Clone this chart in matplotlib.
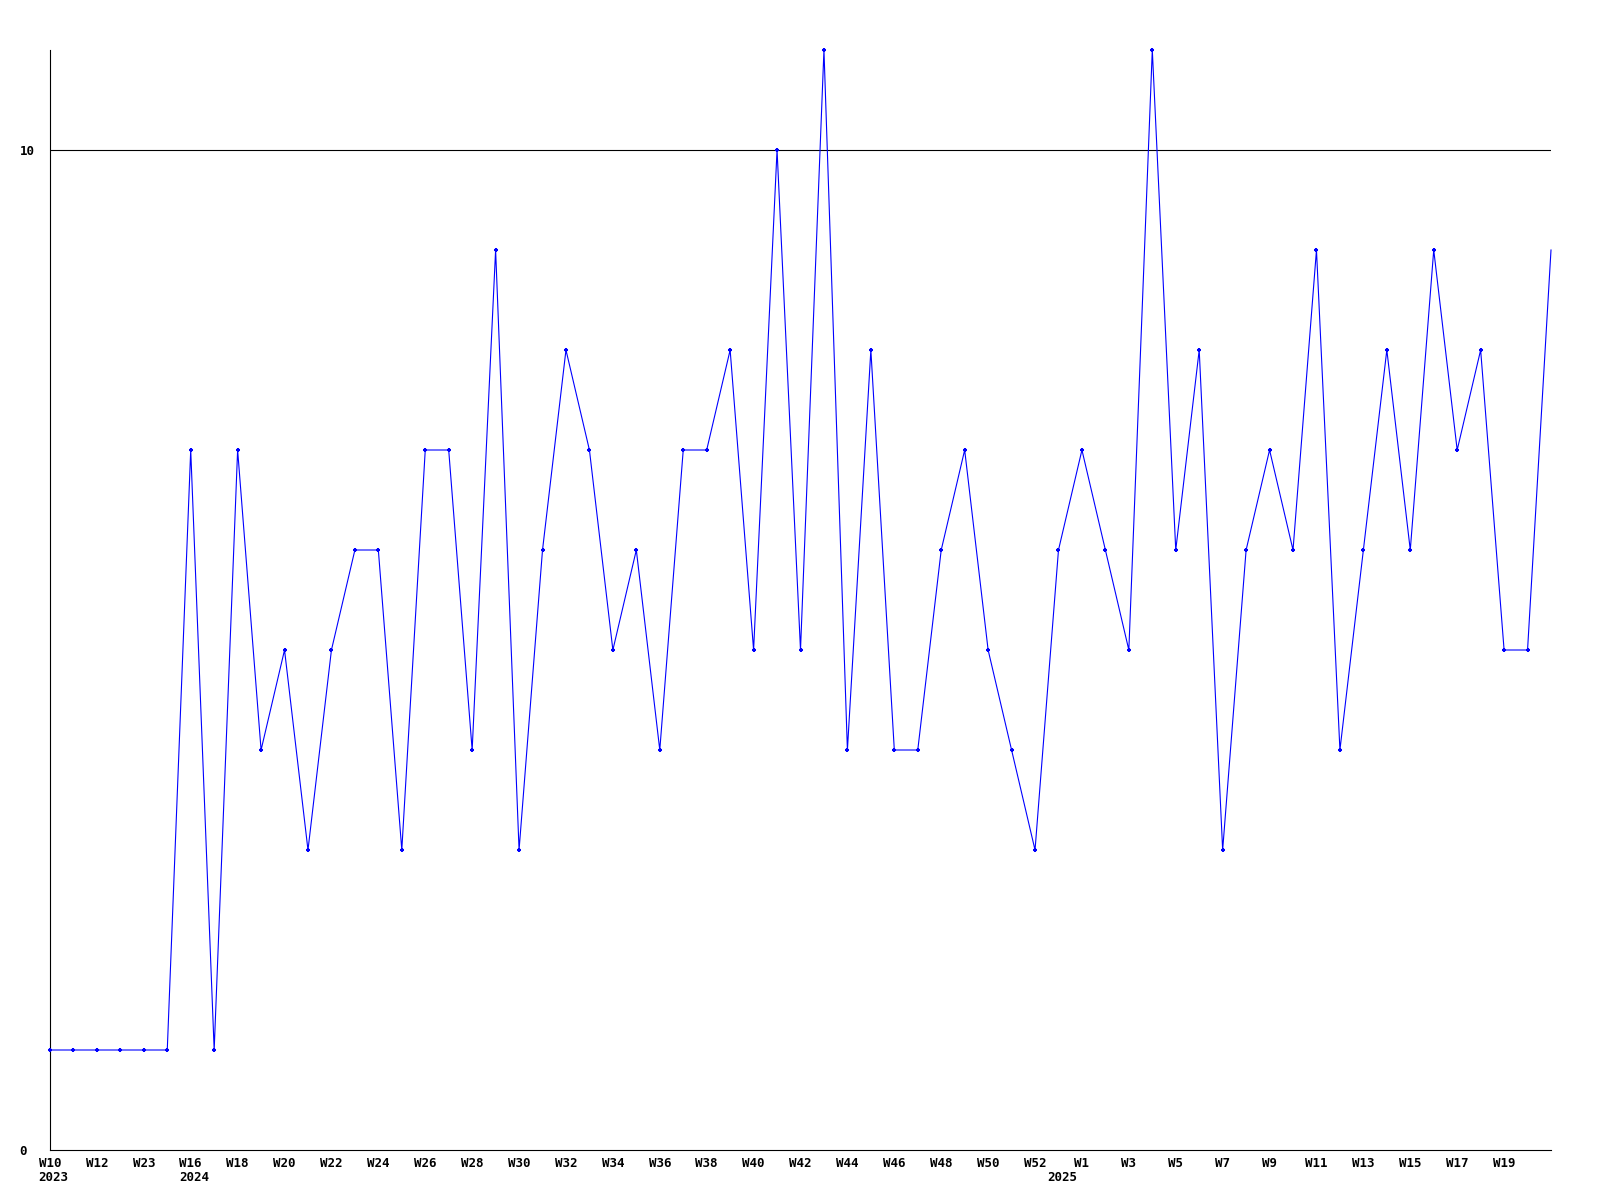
import numpy as np
import matplotlib
matplotlib.use('Agg')
import matplotlib.pyplot as plt

# weekly counts
values = [1, 1, 1, 1, 1, 1, 7, 1, 7, 4, 5, 3, 5, 6, 6, 3, 7, 7, 4, 9,
          3, 6, 8, 7, 5, 6, 4, 7, 7, 8, 5, 10, 5, 11, 4, 8, 4, 4, 6, 7,
          5, 4, 3, 6, 7, 6, 5, 11, 6, 8, 3, 6, 7, 6, 9, 4, 6, 8, 6, 9,
          7, 8, 5, 5, 9]

week_labels = ['W10', 'W12', 'W23', 'W16', 'W18', 'W20', 'W22', 'W24', 'W26',
               'W28', 'W30', 'W32', 'W34', 'W36', 'W38', 'W40', 'W42', 'W44',
               'W46', 'W48', 'W50', 'W52', 'W1', 'W3', 'W5', 'W7', 'W9',
               'W11', 'W13', 'W15', 'W17', 'W19']
year_labels = ['2023', '2024', '2025']
year_pos = [0, 6, 43]

y_ticks = [0, 10]

font = dict(family='DejaVu Sans Mono', weight='bold', size=9)

x = np.arange(len(values))

fig = plt.figure(figsize=(16, 12), dpi=100)
ax = fig.add_axes([50 / 1600, 50 / 1200, 1501 / 1600, 1100 / 1200])

ax.axhline(10, color='black', lw=0.8, zorder=1)
ax.plot(x, values, color='#0000ff', lw=0.8, marker='+', markersize=3.5,
        markeredgewidth=1.5, markevery=list(range(len(values) - 1)),
        zorder=3, clip_on=False)

ax.set_xlim(0, len(values) - 1)
ax.set_ylim(0, 11)

for s in ['top', 'right']:
    ax.spines[s].set_visible(False)
for s in ['left', 'bottom']:
    ax.spines[s].set_linewidth(0.8)
    ax.spines[s].set_color('black')

ax.set_xticks(x[::2][:len(week_labels)])
ax.set_xticklabels(week_labels, fontdict=font)
ax.tick_params(axis='x', length=0, pad=5)

ax.set_yticks(y_ticks)
ax.set_yticklabels([str(v) for v in y_ticks], fontdict=font, ha='left')
ax.tick_params(axis='y', length=0, pad=22)

for lab, pos in zip(year_labels, year_pos):
    ax.annotate(lab, xy=(pos, 0), xycoords=('data', 'axes fraction'),
                xytext=(2.6, -19.6), textcoords='offset points',
                ha='center', va='center', **font)

fig.savefig('out.png', dpi=100)
